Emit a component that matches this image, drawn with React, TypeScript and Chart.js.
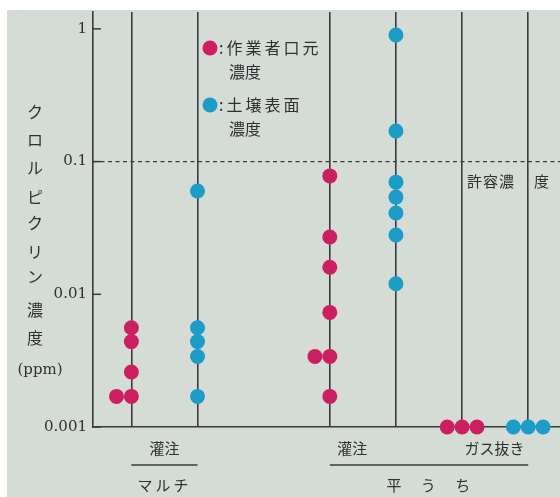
import { useEffect, useRef } from "react";
import { Chart, registerables } from "chart.js";

Chart.register(...registerables);

// ---- data ----
const groupPositions = [1, 2, 4, 5, 6, 7];
const workerMulchInjection = [0.0056, 0.0044, 0.0026, 0.0017, 0.0017];
const soilMulchInjection = [0.06, 0.0056, 0.0044, 0.0034, 0.0017];
const workerFlatInjection = [0.078, 0.027, 0.016, 0.0073, 0.0034, 0.0034, 0.0017];
const soilFlatInjection = [0.9, 0.17, 0.07, 0.054, 0.041, 0.028, 0.012];
const workerFlatVenting = [0.001, 0.001, 0.001];
const soilFlatVenting = [0.001, 0.001, 0.001];
const yTickValues = [0.001, 0.01, 0.1, 1];
const yTickLabels = ["0.001", "0.01", "0.1", "1"];
const limitValue = 0.1;
const limitLabel = "許容濃 度";
const legendWorker = [":作業者口元", "濃度"];
const legendSoil = [":土壌表面", "濃度"];
const yTitleChars = ["ク", "ロ", "ル", "ピ", "ク", "リ", "ン", "濃", "度"];
const yTitleUnit = "(ppm)";
const methodLabels = ["灌注", "灌注", "ガス抜き"];
const coverLabels = ["マルチ", "平 う ち"];

const W = 560;
const H = 497;
const BG = "#d5dbd5";
const INK = "#383c3f";
const TEXT = "#2e3133";
const MAGENTA = "#cc1f62";
const CYAN = "#1b9dc7";
const DOT_STEP = 0.225;
const JP = "'Noto Sans CJK JP', sans-serif";
const SERIF = "'DejaVu Serif', serif";

function stackDots(values: number[], pos: number) {
  const counts: Record<string, number> = {};
  values.forEach((v) => (counts[v] = (counts[v] || 0) + 1));
  const used: Record<string, number> = {};
  return values.map((v) => {
    const n = counts[v];
    const k = used[v] || 0;
    used[v] = k + 1;
    const start = n === 2 ? -1 : -Math.floor(n / 2);
    return { x: pos + (start + k) * DOT_STEP, y: v };
  });
}

const decorPlugin = {
  id: "decor",
  beforeDraw(chart: any) {
    const ctx = chart.ctx;
    ctx.save();
    ctx.fillStyle = "#ffffff";
    ctx.fillRect(0, 0, W, H);
    ctx.fillStyle = BG;
    ctx.fillRect(7, 10, W - 7, H - 10);
    ctx.restore();
  },
  beforeDatasetsDraw(chart: any) {
    const ctx = chart.ctx;
    const { left, right } = chart.chartArea;
    const y = chart.scales.y;
    ctx.save();
    const ly = y.getPixelForValue(limitValue);
    ctx.strokeStyle = INK;
    ctx.lineWidth = 1.4;
    ctx.setLineDash([4, 3.5]);
    ctx.beginPath();
    ctx.moveTo(left, ly);
    ctx.lineTo(right, ly);
    ctx.stroke();
    ctx.setLineDash([]);
    ctx.lineWidth = 1.5;
    yTickValues.forEach((v) => {
      const py = y.getPixelForValue(v);
      ctx.beginPath();
      ctx.moveTo(left, py);
      ctx.lineTo(left + 8, py);
      ctx.stroke();
    });
    ctx.restore();
  },
  afterDraw(chart: any) {
    const ctx = chart.ctx;
    const x = chart.scales.x;
    const y = chart.scales.y;
    const bottom = chart.chartArea.bottom;
    ctx.save();
    ctx.fillStyle = TEXT;
    ctx.textBaseline = "middle";

    // y title (vertical)
    ctx.textAlign = "center";
    ctx.font = `16px ${JP}`;
    const titleYs = [112, 140, 168, 197, 223, 252, 277, 310, 338];
    yTitleChars.forEach((c, i) => ctx.fillText(c, 35, titleYs[i]));
    ctx.font = `15px ${SERIF}`;
    ctx.fillText(yTitleUnit, 40, 370);

    // legend
    const drawLegend = (color: string, lines: string[], cy: number) => {
      ctx.fillStyle = color;
      ctx.beginPath();
      ctx.arc(210, cy, 7.5, 0, Math.PI * 2);
      ctx.fill();
      ctx.fillStyle = TEXT;
      ctx.textAlign = "left";
      ctx.font = `16px ${JP}`;
      (ctx as any).letterSpacing = "3px";
      ctx.fillText(lines[0], 219, cy);
      (ctx as any).letterSpacing = "0px";
      ctx.fillText(lines[1], 229, cy + 24);
    };
    drawLegend(MAGENTA, legendWorker, 48);
    drawLegend(CYAN, legendSoil, 105);

    // limit label
    ctx.textAlign = "left";
    ctx.font = `15px ${JP}`;
    const parts = limitLabel.split(" ");
    const ly = y.getPixelForValue(limitValue) + 20;
    (ctx as any).letterSpacing = "1px";
    ctx.fillText(parts[0], 467, ly);
    ctx.fillText(parts[1], 534, ly);
    (ctx as any).letterSpacing = "0px";

    // x labels
    ctx.textAlign = "center";
    ctx.font = `15px ${JP}`;
    const methodPos = [1.5, 4.34, 6.49];
    methodLabels.forEach((t, i) =>
      ctx.fillText(t, x.getPixelForValue(methodPos[i]), bottom + 21)
    );
    ctx.strokeStyle = INK;
    ctx.lineWidth = 1.5;
    const spans = [
      [groupPositions[0], groupPositions[1]],
      [groupPositions[2], groupPositions[5]],
    ];
    spans.forEach(([a, b]) => {
      ctx.beginPath();
      ctx.moveTo(x.getPixelForValue(a), bottom + 38);
      ctx.lineTo(x.getPixelForValue(b), bottom + 38);
      ctx.stroke();
    });
    const coverPos = [1.5, 5.49];
    (ctx as any).letterSpacing = "3px";
    ctx.fillText(coverLabels[0], x.getPixelForValue(coverPos[0]), bottom + 58);
    (ctx as any).letterSpacing = "8px";
    ctx.fillText(coverLabels[1], x.getPixelForValue(coverPos[1]) + 4, bottom + 58);
    (ctx as any).letterSpacing = "0px";
    ctx.restore();
  },
};

export default function App() {
  const ref = useRef<HTMLCanvasElement>(null);
  useEffect(() => {
    document.body.style.margin = "0";
    const canvas = ref.current!;
    const groups = [
      { vals: workerMulchInjection, pos: groupPositions[0], color: MAGENTA },
      { vals: soilMulchInjection, pos: groupPositions[1], color: CYAN },
      { vals: workerFlatInjection, pos: groupPositions[2], color: MAGENTA },
      { vals: soilFlatInjection, pos: groupPositions[3], color: CYAN },
      { vals: workerFlatVenting, pos: groupPositions[4], color: MAGENTA },
      { vals: soilFlatVenting, pos: groupPositions[5], color: CYAN },
    ];
    const chart = new Chart(canvas, {
      type: "scatter",
      data: {
        datasets: groups.map((g) => ({
          data: stackDots(g.vals, g.pos),
          backgroundColor: g.color,
          borderWidth: 0,
          pointRadius: 7.5,
          pointHoverRadius: 7.5,
          clip: false as any,
        })),
      },
      options: {
        animation: false,
        responsive: false,
        devicePixelRatio: 1,
        events: [],
        layout: {
          autoPadding: false,
          padding: { left: 0, right: 0, top: 12, bottom: 0 },
        },
        plugins: {
          legend: { display: false },
          tooltip: { enabled: false },
        },
        scales: {
          x: {
            type: "linear",
            min: 0.42,
            max: 7.48,
            afterBuildTicks: (s: any) => {
              s.ticks = groupPositions.map((v) => ({ value: v }));
            },
            afterFit: (s: any) => {
              s.height = 70;
              s.paddingLeft = 0;
              s.paddingRight = 0;
            },
            ticks: { display: false },
            grid: {
              display: true,
              drawTicks: false,
              color: INK,
              lineWidth: 1.6,
            },
            border: { display: true, color: INK, width: 1.6 },
          },
          y: {
            type: "logarithmic",
            min: 0.001,
            max: 1.34,
            afterBuildTicks: (s: any) => {
              s.ticks = yTickValues.map((v) => ({ value: v }));
            },
            afterFit: (s: any) => {
              s.width = 93;
              s.paddingTop = 0;
              s.paddingBottom = 0;
            },
            ticks: {
              padding: 6,
              color: TEXT,
              font: { family: "'DejaVu Serif', serif", size: 15 },
              callback: (v: any) => {
                const i = yTickValues.indexOf(Number(v));
                return i >= 0 ? yTickLabels[i] : "";
              },
            },
            grid: { display: false, drawTicks: false },
            border: { display: true, color: INK, width: 1.6 },
          },
        },
      },
      plugins: [decorPlugin],
    } as any);
    return () => chart.destroy();
  }, []);
  return (
    <div style={{ width: W, height: H }}>
      <canvas ref={ref} width={W} height={H} style={{ display: "block" }} />
    </div>
  );
}
